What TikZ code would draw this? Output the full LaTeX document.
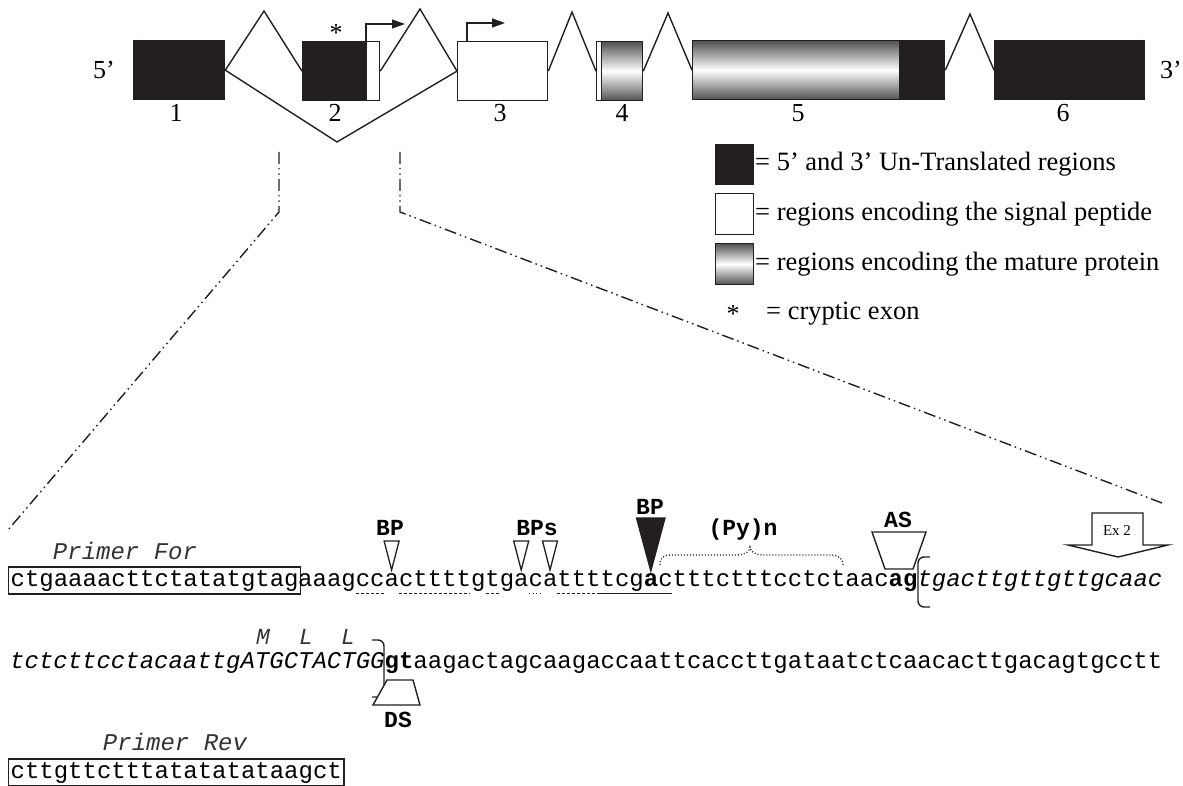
\documentclass[tikz,border=0pt]{standalone}
\usepackage{fontspec}
\setmainfont{Liberation Serif}
\newfontfamily\seqf{Liberation Mono}
\usetikzlibrary{arrows.meta}
\definecolor{ink}{RGB}{35,31,32}
\begin{document}
\begin{tikzpicture}[x=1pt,y=-1pt,
  exon/.style={draw=ink, line width=1.3pt, inner sep=0pt, minimum height=59pt, anchor=north west},
  blk/.style={exon, fill=ink},
  wht/.style={exon, fill=white},
  grd/.style={exon, top color=black!68, bottom color=black!68, middle color=white},
  intron/.style={draw=ink, line width=1.4pt, line join=miter},
  tss/.style={draw=ink, line width=1.4pt, -{Triangle[length=13pt,width=9pt]}},
  num/.style={font=\fontsize{26}{30}\selectfont, inner sep=0pt},
  legtxt/.style={font=\fontsize{26.5}{30}\selectfont, inner sep=0pt, anchor=west},
  zoomline/.style={draw=ink, line width=1.4pt, dash pattern=on 12pt off 4pt on 1.5pt off 4pt on 1.5pt off 4pt},
  seq/.style={anchor=base west, inner sep=0pt, font=\seqf\fontsize{24}{28}\selectfont},
  pbox/.style={draw=ink, line width=1.3pt, inner xsep=2pt, inner ysep=0pt, text height=19pt, text depth=8pt},
  lbl/.style={inner sep=0pt, font=\seqf\itshape\fontsize{24}{28}\selectfont, text=black!80},
  mll/.style={inner sep=0pt, font=\seqf\itshape\fontsize{23}{26}\selectfont, text=black!80},
  blab/.style={inner sep=0pt, font=\seqf\bfseries\fontsize{23}{26}\selectfont},
  otri/.style={draw=ink, line width=1.3pt, fill=white, line join=miter},
  ftri/.style={draw=ink, line width=1.3pt, fill=ink, line join=miter},
  trap/.style={draw=ink, line width=1.4pt, line join=miter},
  brk/.style={draw=ink, line width=1.4pt, rounded corners=6pt},
  ul/.style={draw=ink, line width=1pt},
  ulds/.style={ul, dash pattern=on 3pt off 2pt},
  ulot/.style={ul, dash pattern=on 1pt off 2.5pt},
  brace/.style={draw=ink, line width=1.3pt, dash pattern=on 1pt off 2pt}
]
\useasboundingbox (0,0) rectangle (1183,786);

% ---------- gene structure ----------
\node[blk, minimum width=91pt] (e1) at (133,40) {};
\node[blk, minimum width=64pt] (e2a) at (302,41) {};
\node[wht, minimum width=13pt] (e2b) at (366,41) {};
\node[wht, minimum width=90pt] (e3) at (457,41) {};
\node[wht, minimum width=5pt] (e4a) at (596,41) {};
\node[grd, minimum width=41pt] (e4b) at (601,41) {};
\node[grd, minimum width=207pt] (e5a) at (692,40) {};
\node[blk, minimum width=45pt] (e5b) at (899,40) {};
\node[blk, minimum width=150pt] (e6) at (994,40) {};

\draw[intron] (e1.east) -- (264,11) -- (e2a.west);
\draw[intron] (e2b.east) -- (420,9) -- (e3.west);
\draw[intron] (e1.east) -- (337,142) -- (e3.west);
\draw[intron] (e3.east) -- (572,12) -- (e4a.west);
\draw[intron] (e4b.east) -- (668,13) -- (e5a.west);
\draw[intron] (e5b.east) -- (970,14) -- (e6.west);

\draw[tss] (e2b.north west) -- ++(0,-17) -- ++(39,0);
\draw[tss] ([xshift=10pt]e3.north west) -- ++(0,-18) -- ++(38,0);

\node[num] (ast) at (336,33) {*};
\node[num] (p5) at (104,70) {5’};
\node[num] (p3) at (1171,70) {3’};
\node[num] (n1) at (176,113) {1};
\node[num] (n2) at (335,113) {2};
\node[num] (n3) at (500,113) {3};
\node[num] (n4) at (622,113) {4};
\node[num] (n5) at (798,113) {5};
\node[num] (n6) at (1063,113) {6};

% ---------- legend ----------
\node[blk, minimum width=38pt, minimum height=40pt] (lg1) at (715,144) {};
\node[legtxt] (lt1) at (755,164) {= 5’ and 3’ Un-Translated regions};
\node[wht, minimum width=38pt, minimum height=41pt, line width=1.2pt] (lg2) at (715,193) {};
\node[legtxt] (lt2) at (755,214) {= regions encoding the signal peptide};
\node[grd, minimum width=38pt, minimum height=41pt, line width=1.2pt] (lg3) at (715,243) {};
\node[legtxt] (lt3) at (755,264) {= regions encoding the mature protein};
\node[num] (lg4) at (733,314) {*};
\node[legtxt] (lt4) at (766,314) {= cryptic exon};

% ---------- zoom lines ----------
\coordinate (za1) at (279,152);
\coordinate (za2) at (279,212);
\coordinate (za3) at (8,530);
\coordinate (zb1) at (400,152);
\coordinate (zb2) at (400,212);
\coordinate (zb3) at (1162,503);
\draw[zoomline] (za1) -- (za2) -- (za3);
\draw[zoomline] (zb1) -- (zb2) -- (zb3);

% ---------- sequence ----------
\node[lbl] (pfl) at (125,551) {Primer For};
\node[seq, pbox] (pf) at (8,586) {ctgaaaacttctatatgtag};
\node[seq] (s1) at (298,586) {aaagccacttttgtgacattttcg\textbf{a}ctttctttcctctaac\textbf{ag}\textit{tgacttgttgttgcaac}};

\node[mll] (mM) at (263,637) {M};
\node[mll] (mL1) at (306,637) {L};
\node[mll] (mL2) at (348,637) {L};
\node[seq] (s2) at (10,668) {\textit{tctcttcctacaattgATGCTACTGG}\textbf{gt}aagactagcaagaccaattcaccttgataatctcaacacttgacagtgcctt};

\node[lbl] (prl) at (175,742) {Primer Rev};
\node[seq, pbox] (pr) at (8,778) {cttgttctttatatatataagct};

% underlines
\draw[ulds] (356,593) -- (384,593);
\draw[ulds] (399,593) -- (470,593);
\draw[ulds] (486,593) -- (500,593);
\draw[ulot] (529,593) -- (543,593);
\draw[ulds] (557,593) -- (600,593);
\draw[ul] (600,593) -- (672,593);

% branch points
\node[blab] (bp1l) at (390,528) {BP};
\draw[otri] (391.6,570) -- (384.1,541) -- (399.1,541) -- cycle;
\node[blab] (bpsl) at (537,528) {BPs};
\draw[otri] (521.2,570) -- (513.7,541) -- (528.7,541) -- cycle;
\draw[otri] (550.0,570) -- (542.5,541) -- (557.5,541) -- cycle;
\node[blab] (bp3l) at (650,507) {BP};
\draw[ftri] (650.8,571) -- (636.5,518) -- (665,518) -- cycle;

% polypyrimidine tract
\node[blab] (pyl) at (743,530) {(Py)n};
\draw[brace] (660,565) .. controls (660,557) and (664,555) .. (672,555) -- (738,555)
  .. controls (745,555) and (750,551) .. (750,547)
  .. controls (750,551) and (755,555) .. (762,555) -- (830,555)
  .. controls (838,555) and (843,558) .. (843,565);

% acceptor site
\node[blab] (asl) at (898,520) {AS};
\draw[trap] (872,532) -- (926,532) -- (913,569) -- (885,569) -- cycle;
\draw[brk] (930,557) -- (918,557) -- (918,607) -- (930,607);

% exon 2 arrow
\draw[trap, fill=white] (1092,513) -- (1143,513) -- (1143,545) -- (1168,545) -- (1118,557) -- (1068,545) -- (1092,545) -- cycle;
\node[inner sep=0pt, font=\fontsize{15}{18}\selectfont] (ex2) at (1117,531) {Ex 2};

% donor site
\draw[brk] (372,640) -- (384,640) -- (384,697) -- (372,697);
\draw[trap, fill=white] (387,680) -- (413,680) -- (420,705) -- (373,705) -- cycle;
\node[blab] (dsl) at (398,720) {DS};
\end{tikzpicture}
\end{document}
